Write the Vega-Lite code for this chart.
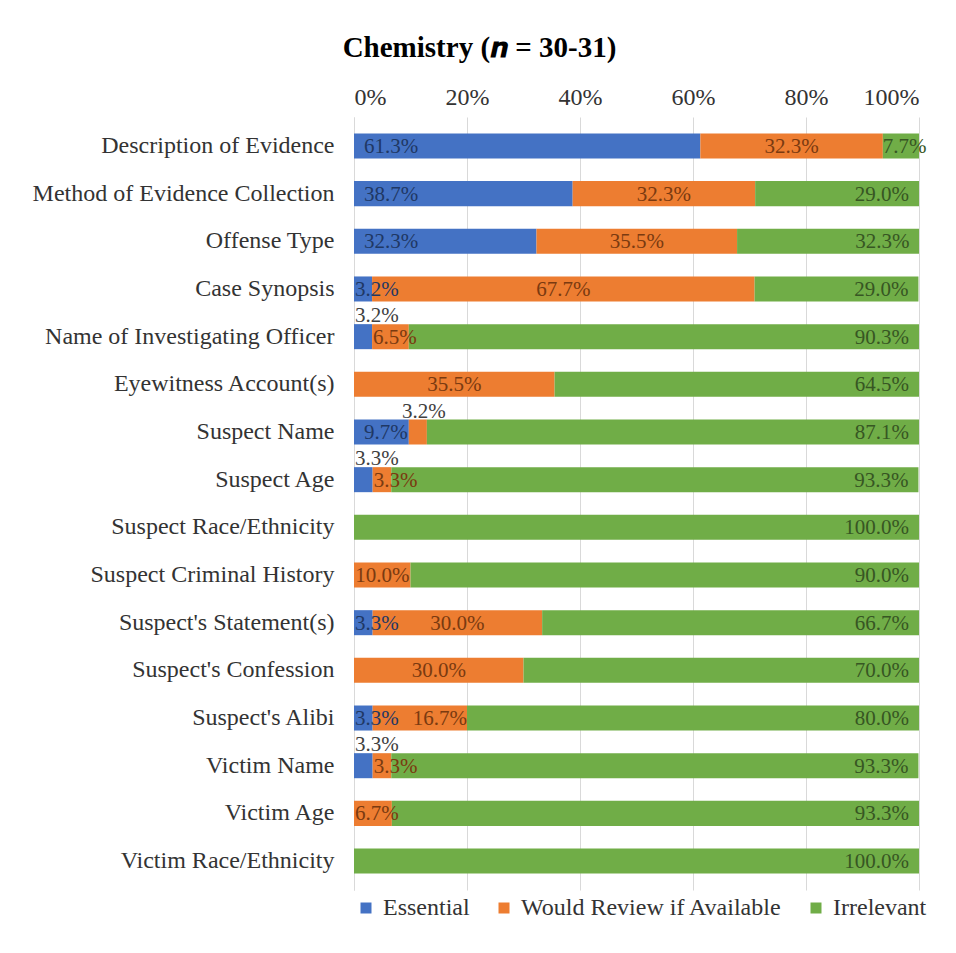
{
  "$schema": "https://vega.github.io/schema/vega-lite/v6.json",
  "autosize": {"type": "none"},
  "padding": {"left": 354, "top": 117, "right": 37, "bottom": 63},
  "width": 565,
  "height": 773,
  "background": "white",
  "config": {
    "font": "Liberation Serif",
    "text": {"font": "Liberation Serif"},
    "axis": {"labelFont": "Liberation Serif", "titleFont": "Liberation Serif"},
    "legend": {"labelFont": "Liberation Serif", "titleFont": "Liberation Serif"},
    "title": {"font": "Liberation Serif"},
    "view": {"stroke": null}
  },
  "title": {
    "text": "Chemistry (𝒏 = 30-31)",
    "font": "Liberation Serif",
    "fontSize": 29,
    "fontWeight": "bold",
    "color": "#000000",
    "anchor": "middle",
    "frame": "bounds",
    "offset": 22
  },
  "data": {
    "values": [
      {"cat": "Description of Evidence", "resp": "Essential", "v": 0.613},
      {"cat": "Description of Evidence", "resp": "Would Review if Available", "v": 0.323},
      {"cat": "Description of Evidence", "resp": "Irrelevant", "v": 0.077},
      {"cat": "Method of Evidence Collection", "resp": "Essential", "v": 0.387},
      {"cat": "Method of Evidence Collection", "resp": "Would Review if Available", "v": 0.323},
      {"cat": "Method of Evidence Collection", "resp": "Irrelevant", "v": 0.29},
      {"cat": "Offense Type", "resp": "Essential", "v": 0.323},
      {"cat": "Offense Type", "resp": "Would Review if Available", "v": 0.355},
      {"cat": "Offense Type", "resp": "Irrelevant", "v": 0.323},
      {"cat": "Case Synopsis", "resp": "Essential", "v": 0.032},
      {"cat": "Case Synopsis", "resp": "Would Review if Available", "v": 0.677},
      {"cat": "Case Synopsis", "resp": "Irrelevant", "v": 0.29},
      {"cat": "Name of Investigating Officer", "resp": "Essential", "v": 0.032},
      {"cat": "Name of Investigating Officer", "resp": "Would Review if Available", "v": 0.065},
      {"cat": "Name of Investigating Officer", "resp": "Irrelevant", "v": 0.903},
      {"cat": "Eyewitness Account(s)", "resp": "Would Review if Available", "v": 0.355},
      {"cat": "Eyewitness Account(s)", "resp": "Irrelevant", "v": 0.645},
      {"cat": "Suspect Name", "resp": "Essential", "v": 0.097},
      {"cat": "Suspect Name", "resp": "Would Review if Available", "v": 0.032},
      {"cat": "Suspect Name", "resp": "Irrelevant", "v": 0.871},
      {"cat": "Suspect Age", "resp": "Essential", "v": 0.033},
      {"cat": "Suspect Age", "resp": "Would Review if Available", "v": 0.033},
      {"cat": "Suspect Age", "resp": "Irrelevant", "v": 0.933},
      {"cat": "Suspect Race/Ethnicity", "resp": "Irrelevant", "v": 1.0},
      {"cat": "Suspect Criminal History", "resp": "Would Review if Available", "v": 0.1},
      {"cat": "Suspect Criminal History", "resp": "Irrelevant", "v": 0.9},
      {"cat": "Suspect's Statement(s)", "resp": "Essential", "v": 0.033},
      {"cat": "Suspect's Statement(s)", "resp": "Would Review if Available", "v": 0.3},
      {"cat": "Suspect's Statement(s)", "resp": "Irrelevant", "v": 0.667},
      {"cat": "Suspect's Confession", "resp": "Would Review if Available", "v": 0.3},
      {"cat": "Suspect's Confession", "resp": "Irrelevant", "v": 0.7},
      {"cat": "Suspect's Alibi", "resp": "Essential", "v": 0.033},
      {"cat": "Suspect's Alibi", "resp": "Would Review if Available", "v": 0.167},
      {"cat": "Suspect's Alibi", "resp": "Irrelevant", "v": 0.8},
      {"cat": "Victim Name", "resp": "Essential", "v": 0.033},
      {"cat": "Victim Name", "resp": "Would Review if Available", "v": 0.033},
      {"cat": "Victim Name", "resp": "Irrelevant", "v": 0.933},
      {"cat": "Victim Age", "resp": "Would Review if Available", "v": 0.067},
      {"cat": "Victim Age", "resp": "Irrelevant", "v": 0.933},
      {"cat": "Victim Race/Ethnicity", "resp": "Irrelevant", "v": 1.0}
    ]
  },
  "transform": [
    {"calculate": "indexof(['Essential','Would Review if Available','Irrelevant'], datum.resp)", "as": "ord"},
    {"stack": "v", "groupby": ["cat"], "sort": [{"field": "ord", "order": "ascending"}], "offset": "zero", "as": ["x0", "x1"]},
    {"calculate": "(datum.x0 + datum.x1) / 2", "as": "mid"},
    {"calculate": "(datum.cat == 'Name of Investigating Officer' && datum.resp == 'Essential') || (datum.cat == 'Suspect Name' && datum.resp == 'Would Review if Available') || (datum.cat == 'Suspect Age' && datum.resp == 'Essential') || (datum.cat == 'Victim Name' && datum.resp == 'Essential')", "as": "callout"}
  ],
  "encoding": {
    "y": {
      "field": "cat",
      "type": "nominal",
      "sort": null,
      "scale": {"paddingInner": 0.475, "paddingOuter": 0.345},
      "axis": {
        "title": null,
        "labelFont": "Liberation Serif",
        "labelFontSize": 24,
        "labelColor": "#333333",
        "labelPadding": 20,
        "ticks": false,
        "domain": true,
        "domainColor": "#d9d9d9",
        "labelLimit": 400
      }
    }
  },
  "layer": [
    {
      "mark": {"type": "bar", "clip": true},
      "encoding": {
        "x": {
          "field": "x0",
          "type": "quantitative",
          "scale": {"domain": [0, 1], "nice": false},
          "axis": {
            "orient": "top",
            "title": null,
            "format": ".0%",
            "values": [0, 0.2, 0.4, 0.6, 0.8, 1],
            "grid": true,
            "gridColor": "#d9d9d9",
            "domain": false,
            "ticks": false,
            "labelFont": "Liberation Serif",
            "labelFontSize": 24,
            "labelColor": "#333333",
            "labelPadding": 8
          }
        },
        "x2": {"field": "x1"},
        "color": {
          "field": "resp",
          "type": "nominal",
          "scale": {
            "domain": ["Essential", "Would Review if Available", "Irrelevant"],
            "range": ["#4472C4", "#ED7D31", "#70AD47"]
          },
          "legend": {
            "orient": "bottom",
            "direction": "horizontal",
            "title": null,
            "symbolType": "square",
            "symbolSize": 121,
            "symbolStrokeWidth": 0,
            "labelFont": "Liberation Serif",
            "labelFontSize": 24,
            "labelColor": "#333333",
            "labelOffset": 5,
            "columnPadding": 22,
            "labelLimit": 400,
            "offset": 6
          }
        }
      }
    },
    {
      "transform": [{"filter": "datum.resp == 'Essential' && !datum.callout && datum.v >= 0.05"}],
      "mark": {"type": "text", "font": "Liberation Serif", "align": "left", "baseline": "middle", "dx": 10, "dy": 1, "fontSize": 21, "color": "#1F3864"},
      "encoding": {
        "x": {"field": "x0", "type": "quantitative"},
        "text": {"field": "v", "type": "quantitative", "format": ".1%"}
      }
    },
    {
      "transform": [{"filter": "datum.resp == 'Essential' && !datum.callout && datum.v < 0.05"}],
      "mark": {"type": "text", "font": "Liberation Serif", "align": "left", "baseline": "middle", "dx": 1, "dy": 1, "fontSize": 21, "color": "#1F3864"},
      "encoding": {
        "x": {"field": "x0", "type": "quantitative"},
        "text": {"field": "v", "type": "quantitative", "format": ".1%"}
      }
    },
    {
      "transform": [{"filter": "datum.resp == 'Would Review if Available' && !datum.callout && datum.v >= 0.1 && datum.cat != \"Suspect's Alibi\""}],
      "mark": {"type": "text", "font": "Liberation Serif", "align": "center", "baseline": "middle", "dy": 1, "fontSize": 21, "color": "#7A3A10"},
      "encoding": {
        "x": {"field": "mid", "type": "quantitative"},
        "text": {"field": "v", "type": "quantitative", "format": ".1%"}
      }
    },
    {
      "transform": [{"filter": "datum.resp == 'Would Review if Available' && !datum.callout && datum.v < 0.1"}],
      "mark": {"type": "text", "font": "Liberation Serif", "align": "left", "baseline": "middle", "dx": 1, "dy": 1, "fontSize": 21, "color": "#7A3A10"},
      "encoding": {
        "x": {"field": "x0", "type": "quantitative"},
        "text": {"field": "v", "type": "quantitative", "format": ".1%"}
      }
    },
    {
      "transform": [{"filter": "datum.resp == 'Would Review if Available' && datum.cat == \"Suspect's Alibi\""}],
      "mark": {"type": "text", "font": "Liberation Serif", "align": "right", "baseline": "middle", "dx": 0, "dy": 1, "fontSize": 21, "color": "#7A3A10"},
      "encoding": {
        "x": {"field": "x1", "type": "quantitative"},
        "text": {"field": "v", "type": "quantitative", "format": ".1%"}
      }
    },
    {
      "transform": [{"filter": "datum.resp == 'Irrelevant' && datum.v >= 0.1"}],
      "mark": {"type": "text", "font": "Liberation Serif", "align": "right", "baseline": "middle", "dx": -10, "dy": 1, "fontSize": 21, "color": "#375623"},
      "encoding": {
        "x": {"field": "x1", "type": "quantitative"},
        "text": {"field": "v", "type": "quantitative", "format": ".1%"}
      }
    },
    {
      "transform": [{"filter": "datum.resp == 'Irrelevant' && datum.v < 0.1"}],
      "mark": {"type": "text", "font": "Liberation Serif", "align": "center", "baseline": "middle", "dy": 1, "fontSize": 21, "color": "#375623"},
      "encoding": {
        "x": {"field": "mid", "type": "quantitative"},
        "text": {"field": "v", "type": "quantitative", "format": ".1%"}
      }
    },
    {
      "transform": [{"filter": "datum.callout && datum.resp == 'Essential'"}],
      "mark": {"type": "text", "font": "Liberation Serif", "align": "left", "baseline": "middle", "dx": 1, "dy": -21, "fontSize": 21, "color": "#404040"},
      "encoding": {
        "x": {"field": "x0", "type": "quantitative"},
        "text": {"field": "v", "type": "quantitative", "format": ".1%"}
      }
    },
    {
      "transform": [{"filter": "datum.callout && datum.resp == 'Would Review if Available'"}],
      "mark": {"type": "text", "font": "Liberation Serif", "align": "center", "baseline": "middle", "dx": 6, "dy": -20, "fontSize": 21, "color": "#404040"},
      "encoding": {
        "x": {"field": "mid", "type": "quantitative"},
        "text": {"field": "v", "type": "quantitative", "format": ".1%"}
      }
    }
  ]
}
